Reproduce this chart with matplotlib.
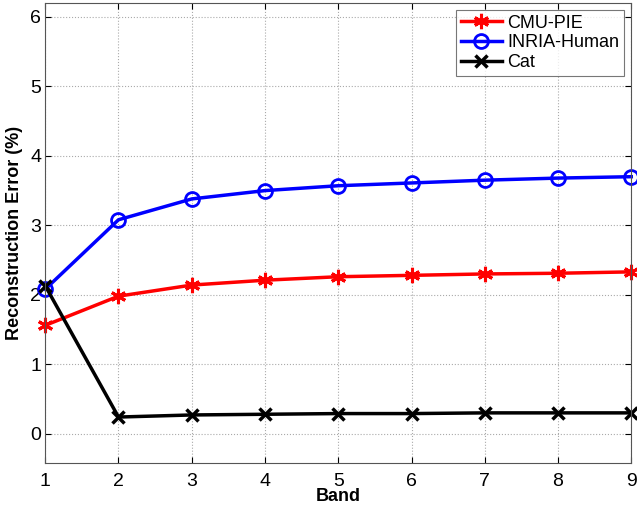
import matplotlib
matplotlib.use('Agg')
import matplotlib.pyplot as plt

band = [1, 2, 3, 4, 5, 6, 7, 8, 9]
cmu_pie = [1.56, 1.98, 2.14, 2.21, 2.26, 2.28, 2.30, 2.31, 2.33]
inria = [2.08, 3.08, 3.38, 3.50, 3.57, 3.61, 3.65, 3.68, 3.70]
cat = [2.13, 0.24, 0.27, 0.28, 0.29, 0.29, 0.30, 0.30, 0.30]

plt.rcParams['font.family'] = ['Liberation Sans', 'DejaVu Sans']

fig = plt.figure(figsize=(6.37, 5.07), dpi=100)
ax = fig.add_axes([0.071, 0.087, 0.92, 0.907])

ax.plot(band, cmu_pie, 'r-', marker=(6, 2, 0), lw=2.5, ms=11, mew=2.2, label='CMU-PIE', clip_on=False)
ax.plot(band, inria, 'b-o', lw=2.5, ms=10, mew=2, mfc='none', label='INRIA-Human', clip_on=False)
ax.plot(band, cat, 'k-x', lw=2.5, ms=9, mew=2.5, label='Cat', clip_on=False)

ax.set_xlim(1, 9)
ax.set_ylim(-0.42, 6.2)
ax.set_xticks(band)
ax.set_yticks([0, 1, 2, 3, 4, 5, 6])
ax.grid(True, linestyle=':', color='#aaaaaa', lw=0.8)
ax.tick_params(direction='in', length=4, labelsize=14, top=True, right=True)
ax.tick_params(axis='y', pad=3)
ax.tick_params(axis='x', pad=7)
for s in ax.spines.values():
    s.set_color('#555555')
ax.set_xlabel('Band', fontweight='bold', fontsize=13, labelpad=-1)
ax.set_ylabel('Reconstruction Error (%)', fontweight='bold', fontsize=13, labelpad=5)

leg = ax.legend(loc='upper right', fontsize=13, fancybox=False, edgecolor='#555555',
                handlelength=2.3, borderpad=0.25, labelspacing=0.15, handletextpad=0.3,
                borderaxespad=0.4)
leg.get_frame().set_linewidth(0.8)

fig.savefig('out.png', dpi=100)
